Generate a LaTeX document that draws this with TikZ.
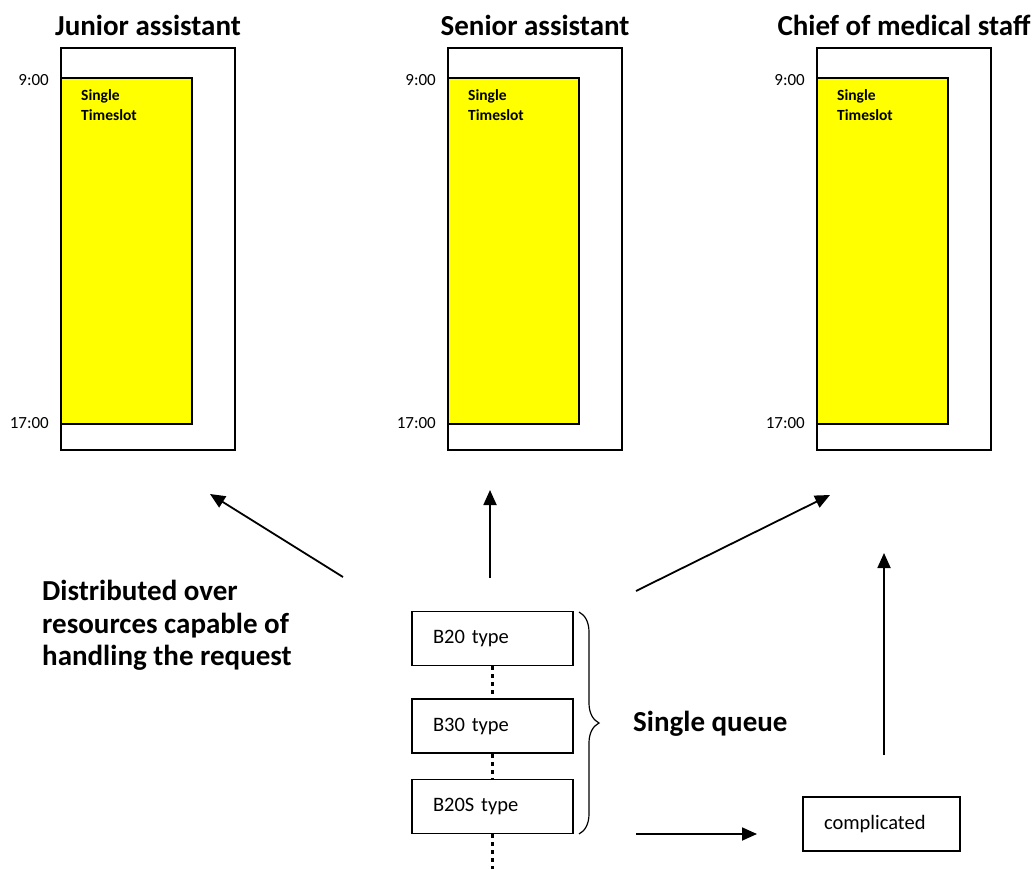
\documentclass[tikz,border=0pt]{standalone}
\usepackage{fontspec}
\setmainfont{Carlito}
\usepackage{tikz}
\usetikzlibrary{arrows.meta,positioning,decorations.pathreplacing}
\definecolor{slotyellow}{RGB}{255,255,0}
\tikzset{%
	staff/.style    = {draw, line width=1.6pt, minimum width=174, minimum height=402, inner sep=0pt},
	slot/.style     = {draw, fill=slotyellow, line width=1.6pt, minimum width=131, minimum height=346, inner sep=0pt},
	slottext/.style = {font=\fontsize{15.5}{20}\selectfont\bfseries, align=left, anchor=north west, inner sep=0pt},
	heading/.style  = {font=\fontsize{29}{32.5}\selectfont\bfseries, inner sep=0pt},
	hour/.style     = {font=\fontsize{17}{19}\selectfont, anchor=east, inner sep=0pt},
	request/.style  = {draw, line width=1.6pt, minimum width=161, minimum height=54, inner sep=0pt, font=\fontsize{20.5}{22}\selectfont, text width=119, align=left},
	arrow/.style    = {line width=1.8pt, -{Triangle[length=15,width=13]}},
	queueline/.style= {line width=3.8pt, dash pattern=on 4pt off 4pt},
}
\begin{document}
\begin{tikzpicture}[x=1pt,y=-1pt]
	\useasboundingbox (0,0) rectangle (1036,869);
	% staff calendars
	\foreach \name/\px/\title in {junior/61/Junior assistant, senior/448/Senior assistant, chief/817/Chief of medical staff} {
		\node[staff] (\name) at (\px+87,249) {};
		\node[slot] (\name slot) at (\px+65.5,251) {};
		\node[heading] (\name title) at (\name.center |- 0,25) {\title};
		\node[hour] (\name nine) at (\px-12,80) {9:00};
		\node[hour] (\name five) at (\px-12,423) {17:00};
		\node[slottext] (\name text) at (\px+20,89) {Single\\Timeslot};
	}
	% queue
	\node[request] (b20) at (492.5,638.5) {B20 type};
	\node[request] (b30) at (492.5,726) {B30 type};
	\node[request] (b20s) at (492.5,806.5) {B20S type};
	\node[request, minimum width=157, text width=115] (complicated) at (881.5,824) {complicated};
	\coordinate (tail) at (b20s.south |- 0,869);
	\draw[queueline] (b20) -- (b30);
	\draw[queueline] (b30) -- (b20s);
	\draw[queueline] (b20s) -- (tail);
	\draw[decorate, decoration={brace, amplitude=20pt}, line width=1.2pt] (579,612) -- (579,834) coordinate[midway] (bracetip);
	\node[heading, anchor=west] (queue) at (633,724) {Single queue};
	\node[heading, anchor=north west, align=left] (spread) at (42,580) {Distributed over\\resources capable of\\handling the request};
	% arrows
	\coordinate (a1s) at (343,577); \coordinate (a1e) at (210,494);
	\coordinate (a2s) at (490,578); \coordinate (a2e) at (490,490);
	\coordinate (a3s) at (636,591); \coordinate (a3e) at (830,495);
	\coordinate (a4s) at (884,755); \coordinate (a4e) at (884,553);
	\coordinate (a5s) at (636,834); \coordinate (a5e) at (757,834);
	\draw[arrow] (a1s) -- (a1e);
	\draw[arrow] (a2s) -- (a2e);
	\draw[arrow] (a3s) -- (a3e);
	\draw[arrow] (a4s) -- (a4e);
	\draw[arrow] (a5s) -- (a5e);
\end{tikzpicture}
\end{document}
